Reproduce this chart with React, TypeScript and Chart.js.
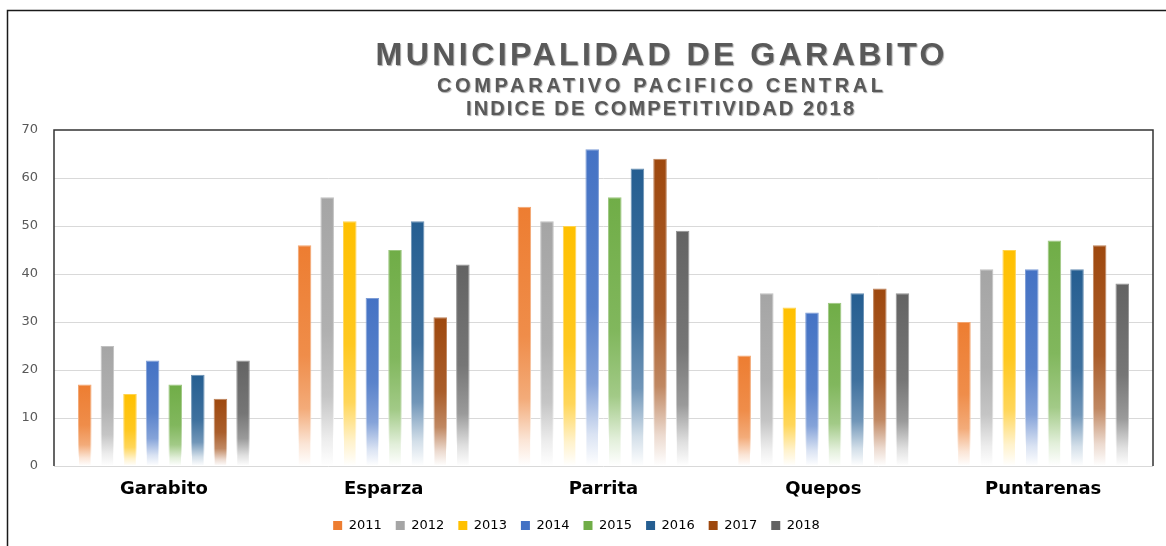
import React, { useEffect, useRef } from 'react';
import { Chart, registerables } from 'chart.js';

Chart.register(...registerables);

const categories = ['Garabito', 'Esparza', 'Parrita', 'Quepos', 'Puntarenas'];
const years = ['2011', '2012', '2013', '2014', '2015', '2016', '2017', '2018'];
const values2011 = [17, 46, 54, 23, 30];
const values2012 = [25, 56, 51, 36, 41];
const values2013 = [15, 51, 50, 33, 45];
const values2014 = [22, 35, 66, 32, 41];
const values2015 = [17, 45, 56, 34, 47];
const values2016 = [19, 51, 62, 36, 41];
const values2017 = [14, 31, 64, 37, 46];
const values2018 = [22, 42, 49, 36, 38];
const seriesValues = [values2011, values2012, values2013, values2014, values2015, values2016, values2017, values2018];
const seriesColors = ['#ED7D31', '#A5A5A5', '#FFC000', '#4472C4', '#70AD47', '#255E91', '#9E480E', '#636363'];
const titleLines = ['MUNICIPALIDAD DE GARABITO', 'COMPARATIVO PACIFICO CENTRAL', 'INDICE DE COMPETITIVIDAD 2018'];
const yMin = 0;
const yMax = 70;
const yStep = 10;

function hexToRgb(hex: string) {
  const n = parseInt(hex.slice(1), 16);
  return [(n >> 16) & 255, (n >> 8) & 255, n & 255];
}
function mix(hex: string, w: number, alpha = 1) {
  const [r, g, b] = hexToRgb(hex);
  const m = (c: number) => Math.round(c + (255 - c) * w);
  return `rgba(${m(r)},${m(g)},${m(b)},${alpha})`;
}

function barFill(color: string, extra = 0) {
  return (ctx: any) => {
    const chart = ctx.chart;
    const area = chart.chartArea;
    if (!area || ctx.type !== 'data' || !chart.scales || !chart.scales.y) return color;
    const ys = chart.scales.y;
    const v = ctx.parsed ? ctx.parsed.y : ctx.raw;
    const top = ys.getPixelForValue(v);
    const base = ys.getPixelForValue(0);
    if (!isFinite(top) || !isFinite(base) || base - top < 1) return color;
    const g = chart.ctx.createLinearGradient(0, top, 0, base);
    g.addColorStop(0, mix(color, extra));
    g.addColorStop(0.5, mix(color, Math.min(1, 0.12 + extra)));
    g.addColorStop(0.74, mix(color, Math.min(1, 0.35 + extra)));
    g.addColorStop(0.9, mix(color, Math.min(1, 0.8 + extra)));
    g.addColorStop(1, mix(color, 1));
    return g;
  };
}

const framePlugin = {
  id: 'framePlugin',
  beforeDraw(chart: any) {
    const c = chart.ctx;
    c.save();
    c.fillStyle = '#ffffff';
    c.fillRect(0, 0, chart.width, chart.height);
    c.restore();
  },
  afterDraw(chart: any) {
    const c = chart.ctx;
    const a = chart.chartArea;
    c.save();
    // outer frame
    c.strokeStyle = '#1a1a1a';
    c.lineWidth = 1.5;
    c.beginPath();
    c.moveTo(7.5, chart.height);
    c.lineTo(7.5, 10.5);
    c.lineTo(chart.width, 10.5);
    c.stroke();
    // plot box (top, left, right)
    c.strokeStyle = '#333333';
    c.lineWidth = 1.5;
    c.beginPath();
    c.moveTo(a.left, a.bottom);
    c.lineTo(a.left, a.top);
    c.lineTo(a.right, a.top);
    c.lineTo(a.right, a.bottom);
    c.stroke();
    // titles
    const specs = [
      { text: titleLines[0], size: 32, y: 65, width: 569 },
      { text: titleLines[1], size: 20, y: 92, width: 446 },
      { text: titleLines[2], size: 20, y: 115, width: 388 },
    ];
    c.textAlign = 'center';
    c.textBaseline = 'alphabetic';
    c.fillStyle = '#595959';
    for (const s of specs) {
      c.font = `bold ${s.size}px "Liberation Sans", Arial, sans-serif`;
      (c as any).letterSpacing = '0px';
      const w = c.measureText(s.text).width;
      const sp = Math.max(0, (s.width - w) / (s.text.length - 1));
      (c as any).letterSpacing = `${sp.toFixed(2)}px`;
      c.shadowColor = 'rgba(0,0,0,0.35)';
      c.shadowOffsetX = 1;
      c.shadowOffsetY = 1;
      c.shadowBlur = 1;
      c.fillText(s.text, 660 + sp / 2, s.y);
    }
    c.restore();
  },
};

export default function App() {
  const ref = useRef<HTMLCanvasElement | null>(null);
  useEffect(() => {
    if (!ref.current) return;
    const chart = new Chart(ref.current, {
      type: 'bar',
      data: {
        labels: categories,
        datasets: years.map((yr, i) => ({
          label: yr,
          data: seriesValues[i],
          backgroundColor: barFill(seriesColors[i]),
          borderColor: barFill(seriesColors[i], 0.3),
          borderWidth: 1,
          categoryPercentage: 0.823,
          barPercentage: 0.6,
        })),
      },
      options: {
        animation: false,
        responsive: false,
        maintainAspectRatio: false,
        layout: { padding: { top: 130, left: 0, right: 13, bottom: 4 } },
        plugins: {
          title: { display: false },
          tooltip: { enabled: false },
          legend: {
            position: 'bottom',
            labels: {
              boxWidth: 9,
              boxHeight: 9,
              padding: 14,
              color: '#595959',
              font: { family: '"DejaVu Sans", sans-serif', size: 13 },
              generateLabels: (ch: any) =>
                ch.data.datasets.map((ds: any, i: number) => ({
                  text: ds.label,
                  fillStyle: seriesColors[i],
                  strokeStyle: seriesColors[i],
                  lineWidth: 0,
                  hidden: false,
                  datasetIndex: i,
                })),
            },
          },
        },
        scales: {
          x: {
            grid: { display: false },
            border: { display: false },
            ticks: {
              color: '#000000',
              padding: 5,
              font: { family: '"DejaVu Sans", sans-serif', size: 18, weight: 'bold' },
            },
            afterFit: (s: any) => {
              s.height = 39;
            },
          },
          y: {
            min: yMin,
            max: yMax,
            ticks: {
              stepSize: yStep,
              color: '#595959',
              padding: 16,
              font: { family: '"DejaVu Sans", sans-serif', size: 13 },
            },
            grid: {
              drawTicks: false,
              color: (ctx: any) => (ctx.tick && ctx.tick.value === yMax ? 'rgba(0,0,0,0)' : '#d9d9d9'),
              lineWidth: 1,
            },
            border: { display: false },
            afterFit: (s: any) => {
              s.width = 54;
            },
          },
        },
      },
      plugins: [framePlugin],
    } as any);
    return () => chart.destroy();
  }, []);
  return (
    <div style={{ position: 'fixed', left: 0, top: 0, width: 1166, height: 546, background: '#fff' }}>
      <canvas ref={ref} width={1166} height={546} style={{ display: 'block', width: 1166, height: 546 }} />
    </div>
  );
}
